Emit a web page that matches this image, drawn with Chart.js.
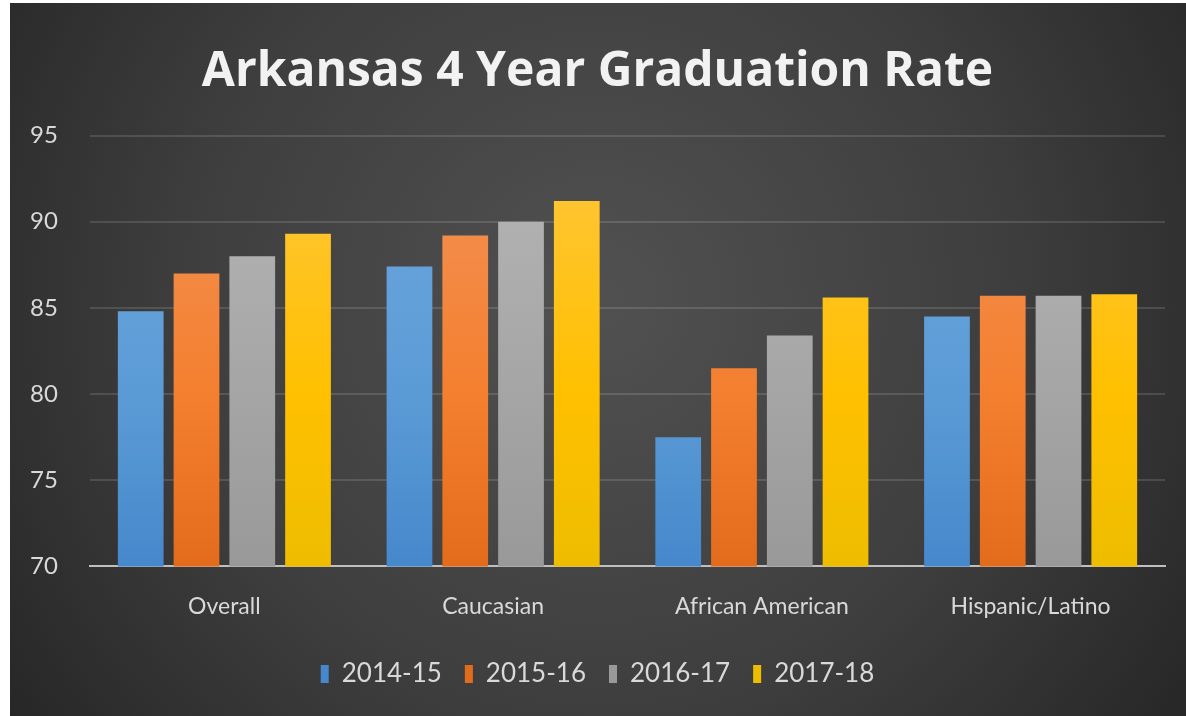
<!DOCTYPE html>
<html>
<head>
<meta charset="utf-8">
<script src="https://cdn.jsdelivr.net/npm/chart.js@4.4.1/dist/chart.umd.min.js"></script>
<style>
  html, body { margin: 0; padding: 0; background: #fff; }
  #wrap { position: absolute; left: 10px; top: 3px; width: 1176px; height: 713px; }
</style>
</head>
<body>
<div id="wrap"><canvas id="grad"></canvas></div>
<script>
const categories = ['Overall', 'Caucasian', 'African American', 'Hispanic/Latino'];
const years = ['2014-15', '2015-16', '2016-17', '2017-18'];
const rate1415 = [84.8, 87.4, 77.5, 84.5];
const rate1516 = [87.0, 89.2, 81.5, 85.7];
const rate1617 = [88.0, 90.0, 83.4, 85.7];
const rate1718 = [89.3, 91.2, 85.6, 85.8];
const yTicks = [70, 75, 80, 85, 90, 95];

// top, middle, bottom shade for each series
const shades = [
    ['#6ea8e0', '#5b9bd5', '#4688cc'],
    ['#f29358', '#f47f2f', '#e36c1c'],
    ['#b6b6b6', '#a5a5a5', '#999999'],
    ['#ffc63f', '#ffc000', '#eebd00']
];

function barFill(i) {
    return function (ctx) {
        const area = ctx.chart.chartArea;
        if (!area) return shades[i][1];
        const g = ctx.chart.ctx.createLinearGradient(0, area.top, 0, area.bottom);
        g.addColorStop(0, shades[i][0]);
        g.addColorStop(0.6, shades[i][1]);
        g.addColorStop(1, shades[i][2]);
        return g;
    };
}

const backdrop = {
    id: 'backdrop',
    beforeDraw(chart) {
        const c = chart.ctx, w = chart.width, h = chart.height;
        c.save();
        const g = c.createRadialGradient(w * 0.5, h * 0.42, 20, w * 0.5, h * 0.42, w * 0.62);
        g.addColorStop(0, '#505050');
        g.addColorStop(0.55, '#3e3e3e');
        g.addColorStop(1, '#262626');
        c.fillStyle = g;
        c.fillRect(0, 0, w, h);
        c.restore();
    }
};

const series = [rate1415, rate1516, rate1617, rate1718];

new Chart(document.getElementById('grad'), {
    type: 'bar',
    data: {
        labels: categories,
        datasets: years.map((y, i) => ({
            label: y,
            data: series[i],
            backgroundColor: barFill(i),
            borderWidth: 0,
            categoryPercentage: 0.83,
            barPercentage: 0.82
        }))
    },
    options: {
        responsive: true,
        maintainAspectRatio: false,
        animation: false,
        layout: { padding: { left: 20, right: 21, top: 41, bottom: 19 } },
        scales: {
            y: {
                min: 70,
                max: 95,
                afterBuildTicks(scale) {
                    scale.ticks = yTicks.map(v => ({ value: v }));
                },
                afterFit(scale) { scale.width = 60; },
                grid: { color: 'rgba(255,255,255,0.13)', lineWidth: 2, drawTicks: false },
                border: { display: false },
                ticks: {
                    color: '#d9d9d9',
                    crossAlign: 'far',
                    font: { family: 'Lato', size: 24 }
                }
            },
            x: {
                grid: { display: false },
                border: { color: '#bfbfbf', width: 2 },
                ticks: {
                    color: '#d9d9d9',
                    padding: 18,
                    font: { family: 'Lato', size: 23 }
                }
            }
        },
        plugins: {
            title: {
                display: true,
                text: 'Arkansas 4 Year Graduation Rate',
                color: '#f2f2f2',
                font: { family: 'Open Sans', size: 48, weight: 'bold' },
                padding: { top: 0, bottom: 34 }
            },
            legend: {
                position: 'bottom',
                labels: {
                    color: '#d9d9d9',
                    boxWidth: 8,
                    boxHeight: 18,
                    padding: 23,
                    font: { family: 'Lato', size: 26 }
                }
            },
            tooltip: { enabled: false }
        }
    },
    plugins: [backdrop]
});
</script>
</body>
</html>
